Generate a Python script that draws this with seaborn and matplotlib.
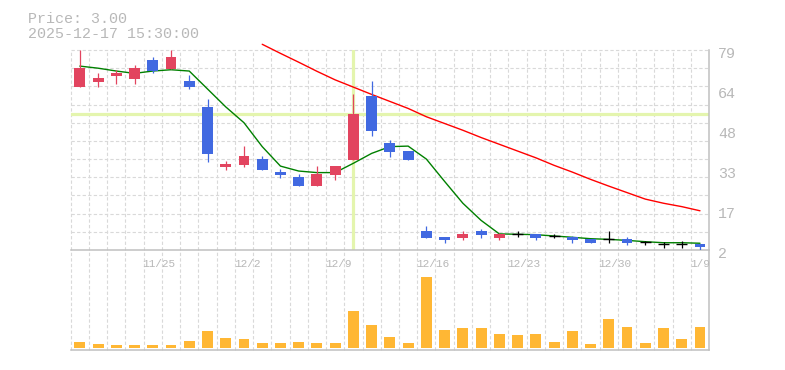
import numpy as np
import matplotlib
matplotlib.use("Agg")
import matplotlib.pyplot as plt
import matplotlib.transforms as mtransforms
import seaborn as sns

# ---------------- data ----------------
dates = ['11/18', '11/19', '11/20', '11/21', '11/25', '11/26', '11/27', '11/28',
         '12/1', '12/2', '12/3', '12/4', '12/5', '12/8', '12/9', '12/10', '12/11',
         '12/12', '12/15', '12/16', '12/17', '12/18', '12/19', '12/22', '12/23',
         '12/24', '12/25', '12/26', '12/29', '12/30', '1/5', '1/6', '1/7', '1/8', '1/9']
opens = [64.9, 66.8, 69.1, 67.8, 75.2, 71.8, 67.1, 57.1, 34.0, 34.8, 37.0, 32.0,
         30.1, 26.8, 31.0, 36.8, 61.4, 43.2, 40.1, 9.3, 7.0, 6.7, 9.3, 6.7, 8.2,
         8.2, 7.4, 7.0, 6.4, 6.2, 6.2, 5.1, 4.5, 4.5, 4.5]
highs = [79.0, 70.3, 71.3, 73.2, 76.3, 79.0, 69.4, 60.1, 36.3, 42.0, 38.2, 33.2,
         31.3, 34.3, 34.3, 62.1, 67.1, 44.4, 40.1, 11.2, 7.0, 9.3, 10.1, 8.5, 9.3,
         8.2, 8.2, 7.4, 6.4, 9.3, 7.0, 5.5, 5.1, 5.3, 4.5]
lows = [64.9, 64.9, 66.0, 66.0, 70.0, 71.8, 64.1, 36.0, 32.8, 34.1, 32.9, 29.8,
        26.8, 26.8, 29.1, 36.8, 46.0, 37.9, 36.8, 6.7, 4.8, 6.0, 6.7, 6.0, 7.0,
        6.0, 6.7, 4.8, 4.8, 4.8, 4.0, 4.0, 2.9, 2.9, 2.0]
closes = [72.1, 68.3, 70.3, 72.1, 71.0, 76.3, 64.9, 39.1, 35.1, 38.2, 32.9, 31.0,
          26.8, 31.3, 34.3, 54.4, 47.9, 39.8, 36.8, 6.7, 6.0, 8.2, 7.9, 8.2, 8.2,
          6.7, 7.4, 6.0, 4.8, 6.2, 4.8, 5.1, 4.5, 4.5, 3.0]
volumes = [63, 40, 30, 30, 30, 30, 70, 170, 100, 90, 50, 50, 60, 50, 50, 370, 230,
           110, 50, 710, 180, 200, 200, 140, 130, 140, 60, 170, 40, 290, 210, 50,
           200, 90, 210]
ma_short = [72.8, 72.0, 70.9, 70.0, 70.9, 71.4, 70.9, 64.0, 57.1, 51.0, 41.8, 34.3,
            32.4, 31.8, 31.8, 35.4, 39.2, 41.8, 42.0, 37.0, 28.4, 20.0, 13.4, 8.2,
            8.05, 7.9, 7.4, 6.9, 6.35, 6.1, 5.7, 5.2, 4.8, 4.8, 4.6]
ma_long_start = 10
ma_long = [81.2, 77.7, 74.3, 70.8, 67.5, 64.7, 61.9, 59.2, 56.5, 53.3, 50.7, 48.1,
           45.3, 42.7, 40.1, 37.5, 34.6, 32.0, 29.2, 26.6, 24.1, 21.6, 20.0, 18.7, 17.1]
price_ticks = [2, 17.4, 32.8, 48.2, 63.6, 79]
price_tick_labels = ['2', '17', '33', '48', '64', '79']
date_label_idx = [4, 9, 14, 19, 24, 29, 34]
header_price = 'Price: 3.00'
header_time = '2025-12-17 15:30:00'
crosshair_idx = 15
crosshair_price = 54.3

# ---------------- style ----------------
RED = '#e2445f'
BLUE = '#4169e1'
ORANGE = '#ffb734'
CROSS = '#e4f5ae'
GRID = '#d9d9d9'
AXIS = '#c0c0c0'
TXT = '#b8b8b8'

sns.set_theme(style='white')
plt.rcParams['font.family'] = ['Liberation Mono', 'DejaVu Sans Mono']

W, H = 785, 370
fig = plt.figure(figsize=(W / 100, H / 100), dpi=100)
fig.patch.set_facecolor('white')


def rect(x0, y0, x1, y1):
    return [x0 / W, 1 - y1 / H, (x1 - x0) / W, (y1 - y0) / H]


ax = fig.add_axes(rect(70.7, 50, 709.1, 250))
axv = fig.add_axes(rect(70.7, 250, 709.1, 350))

n = len(dates)
idx = np.arange(n)
o = np.array(opens); h = np.array(highs); l = np.array(lows); c = np.array(closes)

# ---------------- price panel ----------------
ymin, ymax = min(lows), max(highs)
ax.set_xlim(-0.5, n - 0.5)
ax.set_ylim(ymin, ymax)

grid_kw = dict(color=GRID, lw=0.8, linestyle=(0, (3, 2)), zorder=0, clip_on=False)
for b in np.arange(-0.5, n - 1, 1.0):
    ax.axvline(b, **grid_kw)
    axv.axvline(b, **grid_kw)
step = (ymax - ymin) / 11
for k in range(11):
    ax.axhline(ymax - k * step, **grid_kw)

# crosshair
ax.axvline(crosshair_idx, color=CROSS, lw=2.3, zorder=1)
ax.axhline(crosshair_price, color=CROSS, lw=2.3, zorder=1)

# moving averages
sns.lineplot(x=idx, y=ma_short, ax=ax, color='#008000', lw=1.0, zorder=3,
             estimator=None, errorbar=None, legend=False)
sns.lineplot(x=idx[ma_long_start:], y=ma_long, ax=ax, color='#ff0000', lw=1.0,
             zorder=3, estimator=None, errorbar=None, legend=False, clip_on=False)

# candles
up = c > o
down = c < o
doji = c == o
cols = np.where(up, RED, np.where(down, BLUE, 'black'))
ax.vlines(idx, l, h, colors=cols, lw=0.9, zorder=4)
nd = ~doji
ax.bar(idx[nd], np.abs(c - o)[nd], bottom=np.minimum(o, c)[nd], width=0.6,
       color=cols[nd], linewidth=0, zorder=5)
ax.hlines(c[doji], idx[doji] - 0.3, idx[doji] + 0.3, colors='black', lw=1.0, zorder=5)

# ---------------- volume panel ----------------
sns.barplot(x=idx, y=volumes, ax=axv, color=ORANGE, width=0.6, saturation=1,
            linewidth=0, zorder=2)
vmax = max(volumes)
axv.set_xlim(-0.5, n - 0.5)
axv.set_ylim(-vmax * 0.028, vmax * 1.38)

for a in (ax, axv):
    a.set_facecolor('none')
    a.set_xlabel('')
    a.set_ylabel('')
    a.set_xticks([])
    a.set_yticks([])
    for s in ('top', 'left'):
        a.spines[s].set_visible(False)
    for s in ('right', 'bottom'):
        a.spines[s].set_visible(True)
        a.spines[s].set_color(AXIS)
        a.spines[s].set_linewidth(1.1)

# price labels (right side)
trans_p = (mtransforms.blended_transform_factory(ax.transAxes, ax.transData)
           + mtransforms.ScaledTranslation(9 / 100, -8.3 / 100, fig.dpi_scale_trans))
for v, s in zip(price_ticks, price_tick_labels):
    ax.text(1.0, v, s, transform=trans_p, ha='left', va='baseline',
            color=TXT, fontsize=10.8)

# date labels
trans_d = (mtransforms.blended_transform_factory(axv.transData, axv.transAxes)
           + mtransforms.ScaledTranslation(-1 / 100, -16.7 / 100, fig.dpi_scale_trans))
for i in date_label_idx:
    axv.text(i - 0.5, 1.0, dates[i], transform=trans_d, ha='left', va='baseline',
             color=TXT, fontsize=8)

# header
fig.text(28.5 / W, 1 - 22.7 / H, header_price, ha='left', va='baseline',
         color=TXT, fontsize=10.8)
fig.text(28.5 / W, 1 - 37.7 / H, header_time, ha='left', va='baseline',
         color=TXT, fontsize=10.8)

fig.savefig('out.png', dpi=100, facecolor='white')
